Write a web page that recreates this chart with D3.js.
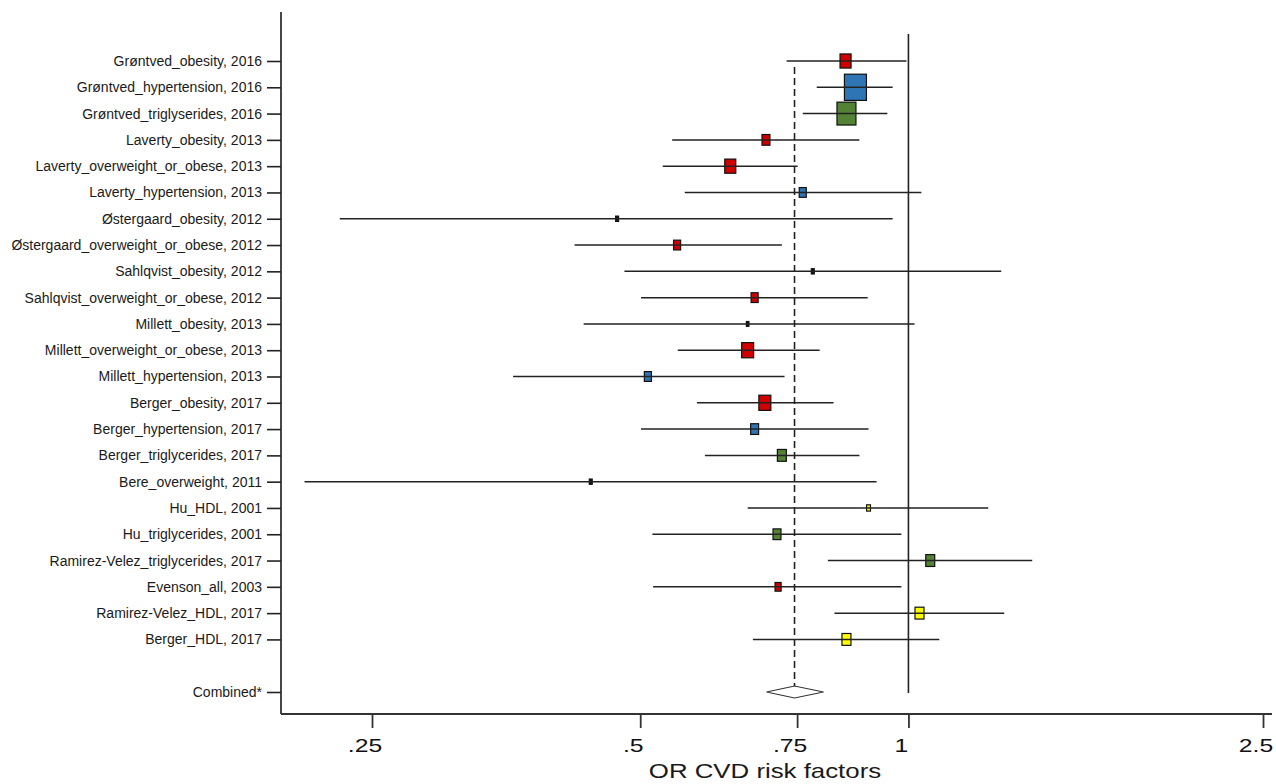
<!DOCTYPE html>
<html>
<head>
<meta charset="UTF-8">
<style>
  body { margin: 0; background: #fff; }
  svg { display: block; background: #fff; font-family: "Liberation Sans", Arial, sans-serif; }
</style>
</head>
<body>
<svg></svg>
<script src="https://d3js.org/d3.v7.min.js"></script>
<script>

const width = 1276, height = 784;

// study rows, top to bottom
const studies = [
  "Grøntved_obesity, 2016", "Grøntved_hypertension, 2016", "Grøntved_triglyserides, 2016",
  "Laverty_obesity, 2013", "Laverty_overweight_or_obese, 2013", "Laverty_hypertension, 2013",
  "Østergaard_obesity, 2012", "Østergaard_overweight_or_obese, 2012", "Sahlqvist_obesity, 2012",
  "Sahlqvist_overweight_or_obese, 2012", "Millett_obesity, 2013", "Millett_overweight_or_obese, 2013",
  "Millett_hypertension, 2013", "Berger_obesity, 2017", "Berger_hypertension, 2017",
  "Berger_triglycerides, 2017", "Bere_overweight, 2011", "Hu_HDL, 2001", "Hu_triglycerides, 2001",
  "Ramirez-Velez_triglycerides, 2017", "Evenson_all, 2003", "Ramirez-Velez_HDL, 2017", "Berger_HDL, 2017"
];
const orEst   = [0.850, 0.872, 0.852, 0.692, 0.631, 0.761, 0.471, 0.550, 0.781, 0.672, 0.660, 0.660,
                 0.510, 0.690, 0.672, 0.721, 0.440, 0.902, 0.712, 1.058, 0.714, 1.029, 0.852];
const orLower = [0.730, 0.789, 0.761, 0.543, 0.530, 0.561, 0.230, 0.422, 0.480, 0.501, 0.432, 0.551,
                 0.360, 0.579, 0.501, 0.591, 0.210, 0.660, 0.516, 0.812, 0.517, 0.826, 0.669];
const orUpper = [0.995, 0.960, 0.947, 0.881, 0.751, 1.034, 0.960, 0.721, 1.271, 0.900, 1.016, 0.795,
                 0.726, 0.824, 0.902, 0.881, 0.921, 1.229, 0.982, 1.377, 0.982, 1.281, 1.083];
const weights = [5.6, 22.3, 16.6, 2.9, 5.6, 2.3, 0.4, 2.3, 0.4, 2.3, 0.3, 6.6,
                 2.3, 6.6, 2.9, 3.7, 0.4, 0.7, 2.9, 3.7, 1.7, 3.7, 3.7];
const factor = ["obesity", "hypertension", "triglycerides", "obesity", "obesity", "hypertension",
                "obesity", "obesity", "obesity", "obesity", "obesity", "obesity",
                "hypertension", "obesity", "hypertension", "triglycerides", "obesity", "HDL", "triglycerides",
                "triglycerides", "obesity", "HDL", "HDL"];

const combinedEst = 0.745;
const combinedCI = [0.693, 0.803];
const combinedRow = 24;

const xTicks = [0.25, 0.5, 0.75, 1, 2.5];
const xTickLabels = [".25", ".5", ".75", "1", "2.5"];

const factorColor = d3.scaleOrdinal()
  .domain(["obesity", "hypertension", "triglycerides", "HDL"])
  .range(["#d00000", "#2e75b6", "#548235", "#ffff00"]);

let svg = d3.select("svg")
  .attr("width", width)
  .attr("height", height);

// log x axis
let x = d3.scaleLog().domain([0.25, 2.5]).range([372, 1263]);
let y = d3.scaleLinear().domain([0, combinedRow]).range([61, 692]);
let size = d3.scaleSqrt().domain([0, 22.3]).range([0, 22]);

// frame lines
svg.append("line")
  .attr("x1", 281).attr("x2", 281).attr("y1", 12).attr("y2", 714)
  .attr("stroke", "#333").attr("stroke-width", 1.8);
svg.append("line")
  .attr("x1", 281).attr("x2", 1272).attr("y1", 714).attr("y2", 714)
  .attr("stroke", "#333").attr("stroke-width", 1.8);

// reference line at 1 and dashed line at combined estimate
svg.append("line")
  .attr("x1", x(1)).attr("x2", x(1)).attr("y1", 34).attr("y2", 693)
  .attr("stroke", "#222").attr("stroke-width", 1.6);
svg.append("line")
  .attr("x1", x(combinedEst)).attr("x2", x(combinedEst)).attr("y1", 67).attr("y2", 687)
  .attr("stroke", "#222").attr("stroke-width", 1.6)
  .attr("stroke-dasharray", "7,4");

// y axis (labels)
let yAxis = d3.axisLeft(y)
  .tickValues(d3.range(studies.length).concat([combinedRow]))
  .tickFormat(i => i === combinedRow ? "Combined*" : studies[i])
  .tickSize(14)
  .tickPadding(5);

let gy = svg.append("g")
  .attr("transform", "translate(281,0)")
  .call(yAxis);
gy.select(".domain").remove();
gy.selectAll(".tick line").attr("stroke", "#222").attr("stroke-width", 1.6);
gy.selectAll(".tick text")
  .attr("fill", "#1a1a1a")
  .style("font-size", "14px")
  .style("font-family", "Liberation Sans, Arial, sans-serif");

// x axis
let xAxis = d3.axisBottom(x)
  .tickValues(xTicks)
  .tickFormat((d, i) => xTickLabels[i])
  .tickSize(14)
  .tickPadding(11);

let gx = svg.append("g")
  .attr("transform", "translate(0,714)")
  .call(xAxis);
gx.select(".domain").remove();
gx.selectAll(".tick line").attr("stroke", "#333").attr("stroke-width", 1.8);
gx.selectAll(".tick text")
  .attr("fill", "#111")
  .attr("transform", "scale(1.3,1)")
  .attr("x", -7.5 / 1.3)
  .style("font-size", "19px")
  .style("font-family", "Liberation Sans, Arial, sans-serif");

// axis title
svg.append("text")
  .attr("transform", "scale(1.23,1)")
  .attr("x", 765 / 1.23)
  .attr("y", 778)
  .attr("text-anchor", "middle")
  .attr("fill", "#1a1a1a")
  .style("font-size", "21px")
  .text("OR CVD risk factors");

// weight boxes
let rows = d3.range(studies.length);

svg.append("g")
  .selectAll("rect")
  .data(rows)
  .enter()
  .append("rect")
  .attr("x", i => x(orEst[i]) - size(weights[i]) / 2)
  .attr("y", i => y(i) - (size(weights[i]) * 1.1 + 2) / 2)
  .attr("width", i => size(weights[i]))
  .attr("height", i => size(weights[i]) * 1.1 + 2)
  // very small boxes show only their outline
  .attr("fill", i => size(weights[i]) < 3.5 ? "#111" : factorColor(factor[i]))
  .attr("stroke", "#111")
  .attr("stroke-width", 1.2);

// confidence intervals, on top of the boxes
svg.append("g")
  .selectAll("line")
  .data(rows)
  .enter()
  .append("line")
  .attr("x1", i => x(orLower[i]))
  .attr("x2", i => x(orUpper[i]))
  .attr("y1", i => y(i))
  .attr("y2", i => y(i))
  .attr("stroke", "#222")
  .attr("stroke-width", 1.5);

// combined diamond
let yc = y(combinedRow);
svg.append("polygon")
  .attr("points", [
      [x(combinedCI[0]), yc],
      [x(combinedEst), yc - 6],
      [x(combinedCI[1]), yc],
      [x(combinedEst), yc + 6]
    ].map(p => p.join(",")).join(" "))
  .attr("fill", "#fff")
  .attr("stroke", "#333")
  .attr("stroke-width", 1.1);

</script>
</body>
</html>
